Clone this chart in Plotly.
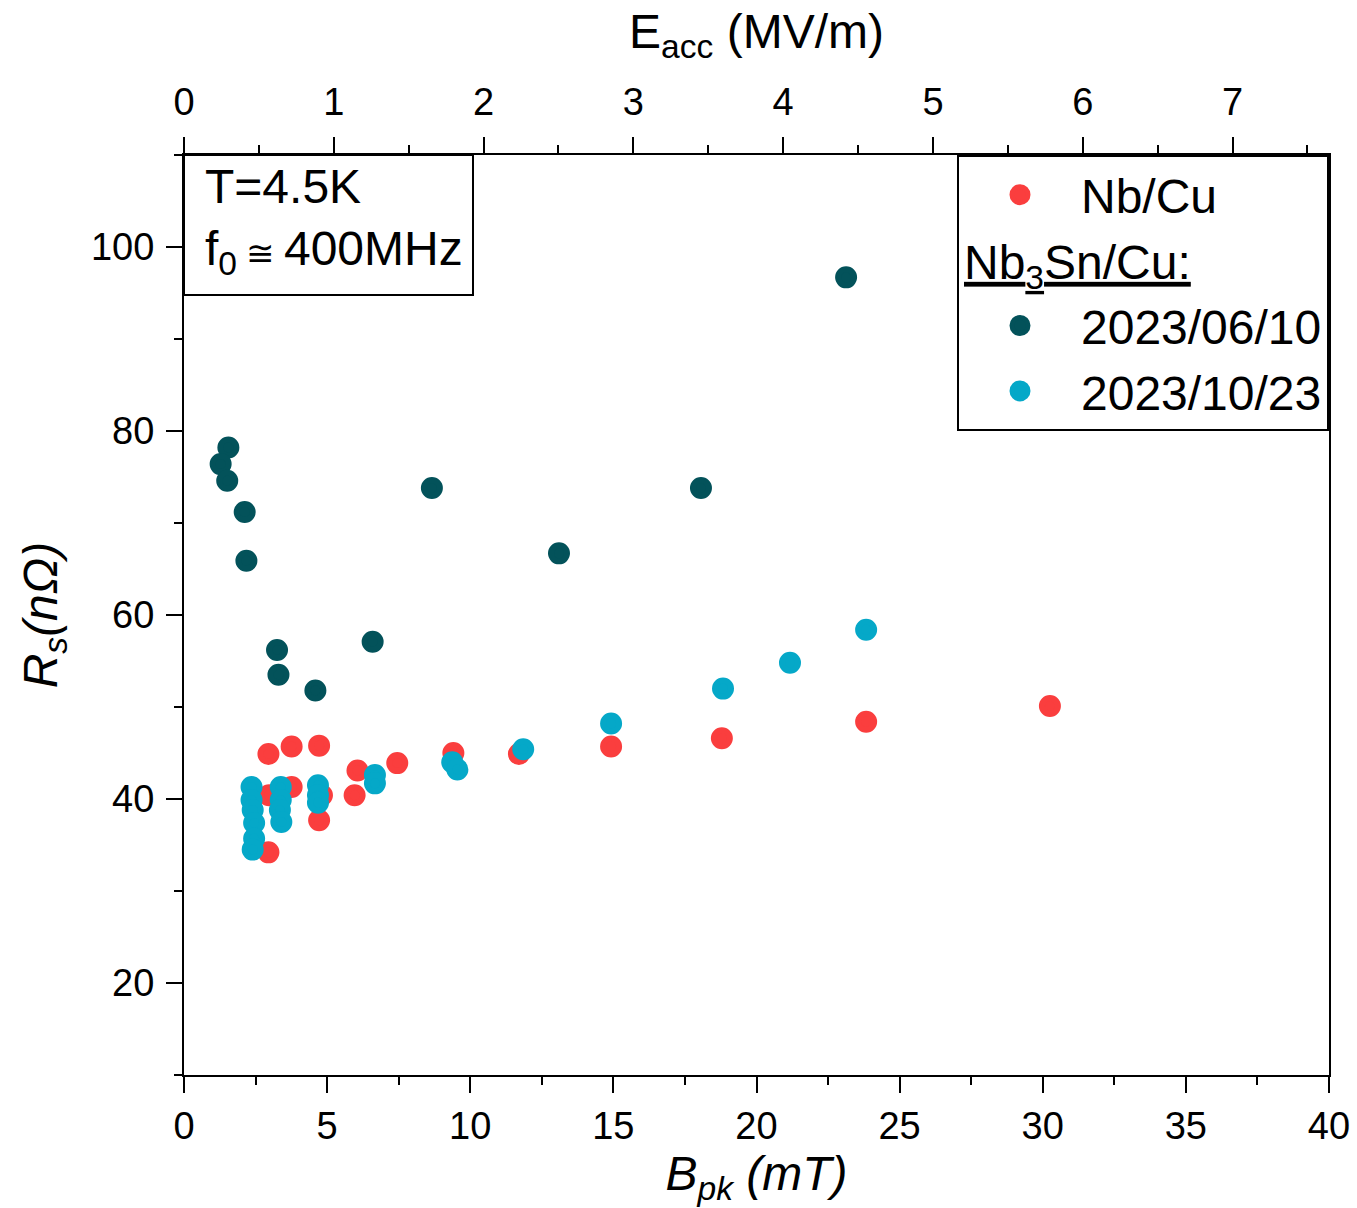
import plotly.graph_objects as go

# Nb/Cu surface resistance vs peak magnetic field
nb_b = [2.95, 3.76, 4.72, 3.76, 2.97, 2.95, 4.72, 4.82, 6.06, 5.96, 7.45, 9.41,
        11.70, 14.92, 18.79, 23.83, 30.25]
nb_rs = [44.9, 45.7, 45.8, 41.3, 40.4, 34.2, 37.7, 40.4, 43.1, 40.4, 43.9, 45.0,
         44.9, 45.7, 46.6, 48.4, 50.1]

# Nb3Sn/Cu, first measurement
sn1_b = [1.55, 1.28, 1.51, 2.12, 2.18, 3.25, 3.30, 4.59, 6.59, 8.66, 13.10, 18.06, 23.13]
sn1_rs = [78.2, 76.4, 74.6, 71.2, 65.9, 56.2, 53.5, 51.8, 57.1, 73.8, 66.7, 73.8, 96.7]

# Nb3Sn/Cu, second measurement
sn2_b = [2.36, 2.36, 2.40, 2.45, 2.45, 2.40, 3.38, 3.38, 3.35, 3.40,
         4.68, 4.68, 4.68, 6.67, 6.67, 9.37, 9.55, 11.85, 14.92, 18.83, 21.17, 23.83]
sn2_rs = [41.3, 39.9, 38.8, 37.4, 35.7, 34.5, 41.3, 39.9, 38.8, 37.5,
          41.5, 40.4, 39.6, 42.6, 41.7, 44.0, 43.2, 45.4, 48.2, 52.0, 54.8, 58.4]

# conversion B_pk / E_acc (mT per MV/m) for the top axis
B_PER_E = 5.233
B_MAX = 40

FONT = "Liberation Sans"
RED = "#FA3E3E"
TEAL = "#03525A"
CYAN = "#05A8C8"


def dot(color):
    # filled circle; the same-colour outline keeps legend symbols large too
    return dict(color=color, size=16, line=dict(color=color, width=6))


fig = go.Figure()
fig.add_trace(go.Scatter(x=nb_b, y=nb_rs, mode="markers", name="Nb/Cu",
                         legendgroup="nb", marker=dot(RED)))
fig.add_trace(go.Scatter(x=sn1_b, y=sn1_rs, mode="markers", name="2023/06/10",
                         legendgroup="nb3sn",
                         legendgrouptitle=dict(text="<u>Nb<sub>3</sub>Sn/Cu:</u>",
                                               font=dict(family=FONT, size=48, color="black")),
                         marker=dot(TEAL)))
fig.add_trace(go.Scatter(x=sn2_b, y=sn2_rs, mode="markers", name="2023/10/23",
                         legendgroup="nb3sn", marker=dot(CYAN)))
# invisible trace that carries the top E_acc axis
fig.add_trace(go.Scatter(x=[0, B_MAX / B_PER_E], y=[None, None], xaxis="x2",
                         mode="markers", showlegend=False, hoverinfo="skip"))

axis_common = dict(showline=True, linecolor="black", linewidth=2,
                   ticks="outside", ticklen=16, tickwidth=2, tickcolor="black",
                   showgrid=False, zeroline=False, automargin=False,
                   tickfont=dict(family=FONT, size=38, color="black"))
minor_common = dict(ticks="outside", ticklen=8, tickwidth=2, tickcolor="black")

fig.update_layout(
    width=1357, height=1208,
    margin=dict(l=184, r=28, t=155, b=133),
    plot_bgcolor="white", paper_bgcolor="white",
    font=dict(family=FONT, color="black"),
    xaxis=dict(range=[0, B_MAX], dtick=5, tick0=0,
               minor=dict(dtick=2.5, **minor_common),
               title=dict(text="<i>B<sub>pk</sub> (mT)</i>", font=dict(family=FONT, size=48),
                          standoff=6),
               **axis_common),
    xaxis2=dict(range=[0, B_MAX / B_PER_E], dtick=1, tick0=0, overlaying="x", side="top",
                anchor="y", ticklabelstandoff=7,
                minor=dict(dtick=0.5, **minor_common),
                title=dict(text="E<sub>acc</sub> (MV/m)", font=dict(family=FONT, size=48),
                           standoff=17),
                **axis_common),
    yaxis=dict(range=[10, 110], dtick=20, tick0=0, mirror=True, ticklabelstandoff=4,
               minor=dict(dtick=10, **minor_common),
               title=dict(text="<i>R<sub>s</sub>(nΩ)</i>", font=dict(family=FONT, size=48),
                          standoff=18),
               **axis_common),
    legend=dict(x=1, y=1, xanchor="right", yanchor="top",
                bgcolor="white", bordercolor="black", borderwidth=2,
                font=dict(family=FONT, size=48, color="black"),
                itemwidth=112, tracegroupgap=0, itemsizing="trace"),
    shapes=[dict(type="rect", xref="paper", yref="paper",
                 x0=0, x1=0.2524, y0=0.8478, y1=1,
                 line=dict(color="black", width=2), fillcolor="white", layer="above")],
    annotations=[dict(
        xref="paper", yref="paper", x=0.0166, y=0.997, xanchor="left", yanchor="top",
        text="T=4.5K<br>f<sub>0</sub><span style='font-size:34px'> ≅ </span>400MHz",
        align="left", showarrow=False,
        font=dict(family=FONT, size=48, color="black"),
    )],
)

fig.write_html("out.html")
